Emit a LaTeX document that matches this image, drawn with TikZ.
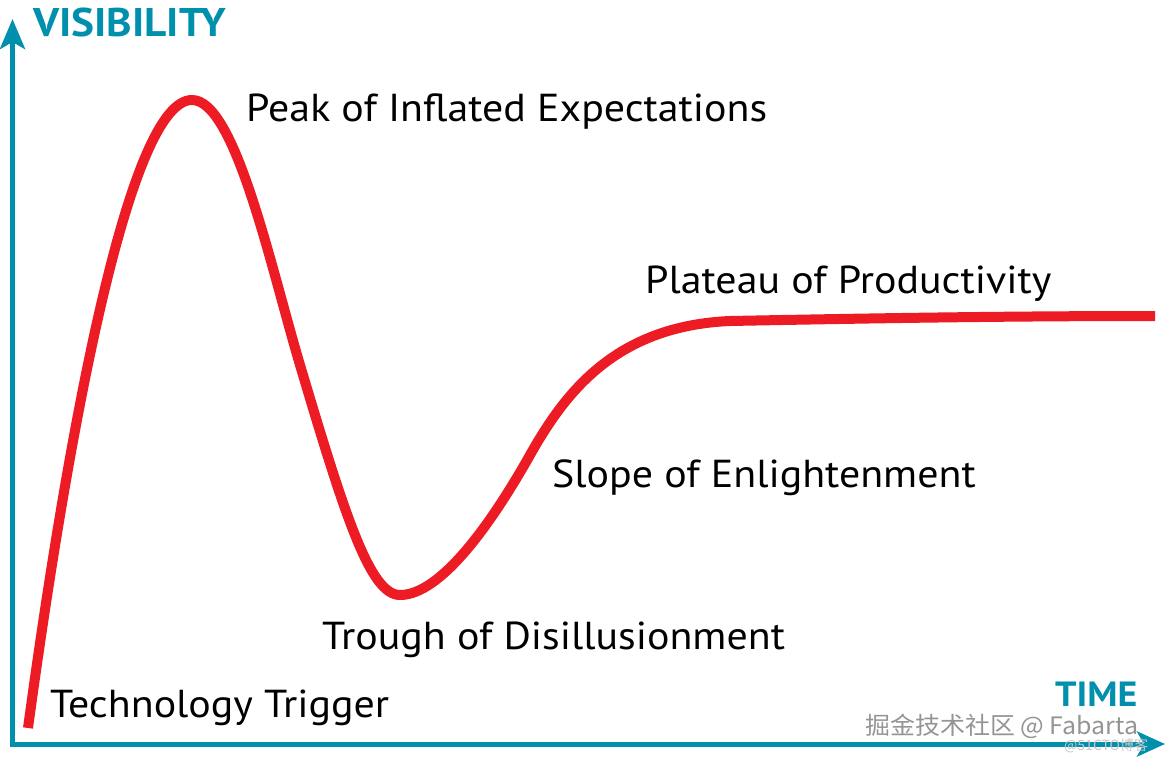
\documentclass[tikz,border=0pt]{standalone}
\usepackage{fontspec}
\setmainfont{PT Sans}
\newfontfamily\phasefont[FakeStretch=1.075]{PT Sans}
\newfontfamily\axisfont[FakeStretch=1.08]{PT Sans}
\newfontfamily\cjkfont{Noto Sans CJK SC}
\usetikzlibrary{arrows.meta}
\definecolor{axisteal}{RGB}{0,143,172}
\definecolor{hypered}{RGB}{237,28,36}
\tikzset{
  axisline/.style={draw=axisteal, line width=5pt, line join=miter},
  hypecurve/.style={draw=hypered, line width=10pt, line cap=butt},
  phase/.style={anchor=base west, inner sep=0pt, font=\phasefont\fontsize{39}{44}\selectfont, text=black},
  axislabel/.style={anchor=base west, inner sep=0pt, text=axisteal},
  wmark/.style={anchor=base west, inner sep=0pt, font=\cjkfont\fontsize{24}{27}\selectfont},
}
\begin{document}
\begin{tikzpicture}[x=1pt, y=-1pt]
\useasboundingbox (0,0) rectangle (1166,759);
% axes
\coordinate (ytip) at (12.5,19);
\coordinate (origin) at (12.5,744);
\coordinate (xtip) at (1165,744);
\draw[axisline, {Stealth[length=30pt, width=25pt, inset=7pt]}-{Stealth[length=28pt, width=25pt, inset=7pt]}] (ytip) -- (origin) -- (xtip);
% hype curve
\draw[hypecurve] (28,728) .. controls (70,420) and (130,100) .. (192,100)
  .. controls (235,100) and (270,264) .. (300,365)
  .. controls (345,516) and (370,595) .. (400,595)
  .. controls (440,595) and (490,526) .. (530,455)
  .. controls (565,393) and (615,326) .. (730,321)
  .. controls (860,318.5) and (1000,316) .. (1155,316);
% labels
\node[axislabel, font=\axisfont\bfseries\fontsize{40}{44}\selectfont] (vis) at (33,37) {VISIBILITY};
\node[axislabel, font=\axisfont\bfseries\fontsize{35}{38}\selectfont] (time) at (1055,706) {TIME};
\node[phase] (peak) at (246,122) {Peak of Inflated Expectations};
\node[phase] (plateau) at (645,293) {Plateau of Productivity};
\node[phase] (slope) at (552,487) {Slope of Enlightenment};
\node[phase] (trough) at (322,649) {Trough of Disillusionment};
\node[phase] (trigger) at (50,717) {Technology Trigger};
% watermarks
\node[wmark, text=black!42, font=\cjkfont\fontsize{24}{27}\selectfont\addfontfeature{FakeStretch=1.04}] (wm1) at (865,734) {掘金技术社区 @ Fabarta};
\node[anchor=base west, inner sep=0pt, font=\cjkfont\fontsize{14}{16}\selectfont, text=black!22] (wm2) at (1064,750) {@51CTO博客};
\end{tikzpicture}
\end{document}
